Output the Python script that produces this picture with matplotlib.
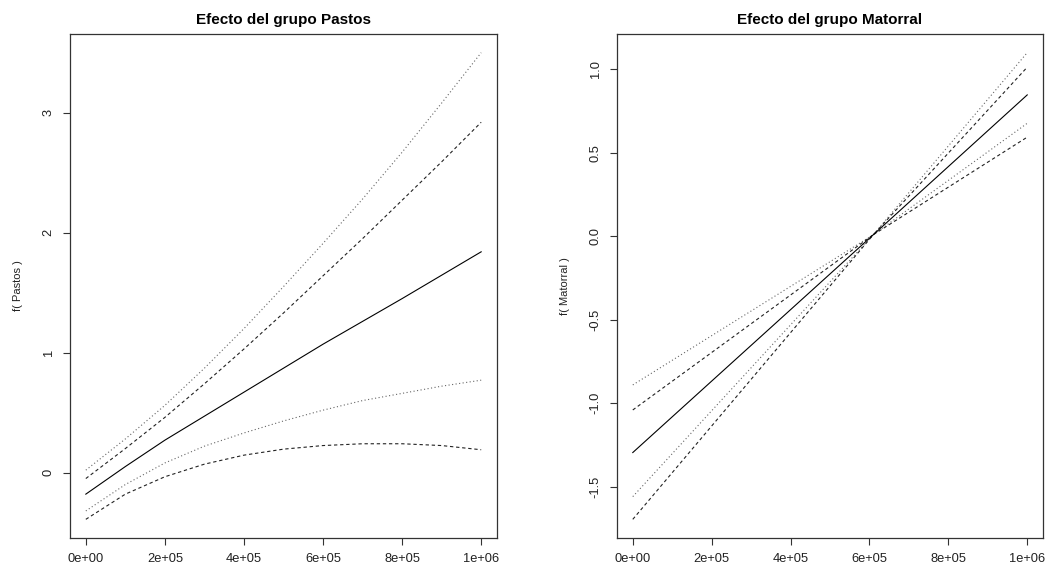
import numpy as np
import matplotlib
matplotlib.use("Agg")
import matplotlib.pyplot as plt

plt.rcParams['font.family'] = ['Liberation Sans', 'DejaVu Sans']

# ---- Data: left panel (Pastos) ----
x_pastos = [0, 1e5, 2e5, 3e5, 4e5, 5e5, 6e5, 7e5, 8e5, 9e5, 1e6]
fit_pastos = [-0.18, 0.05, 0.27, 0.47, 0.67, 0.87, 1.07, 1.26, 1.45, 1.645, 1.84]
up_dot_pastos = [0.02, 0.28, 0.56, 0.87, 1.20, 1.55, 1.91, 2.28, 2.67, 3.08, 3.50]
up_dash_pastos = [-0.05, 0.20, 0.46, 0.74, 1.03, 1.33, 1.64, 1.95, 2.27, 2.59, 2.92]
lo_dot_pastos = [-0.32, -0.10, 0.08, 0.22, 0.33, 0.43, 0.52, 0.60, 0.66, 0.72, 0.77]
lo_dash_pastos = [-0.39, -0.18, -0.035, 0.07, 0.145, 0.195, 0.225, 0.24, 0.24, 0.225, 0.19]

# ---- Data: right panel (Matorral) ----
x_matorral = [0, 6.1e5, 1e6]
fit_matorral = [-1.295, 0.01, 0.847]
up_dot_matorral = [-0.89, 0.01, 1.10]
lo_dot_matorral = [-1.559, 0.01, 0.677]
up_dash_matorral = [-1.04, 0.01, 1.013]
lo_dash_matorral = [-1.695, 0.01, 0.594]

x_ticks = [0, 2e5, 4e5, 6e5, 8e5, 1e6]
x_ticklabels = ["0e+00", "2e+05", "4e+05", "6e+05", "8e+05", "1e+06"]
y_ticks_pastos = [0, 1, 2, 3]
y_ticklabels_pastos = ["0", "1", "2", "3"]
y_ticks_matorral = [-1.5, -1.0, -0.5, 0.0, 0.5, 1.0]
y_ticklabels_matorral = ["-1.5", "-1.0", "-0.5", "0.0", "0.5", "1.0"]

W, H = 1046, 571
fig = plt.figure(figsize=(W / 100, H / 100), dpi=100)
fig.patch.set_facecolor('white')

ax1 = fig.add_axes([70 / W, (H - 538) / H, 427 / W, 504 / H])
ax2 = fig.add_axes([617 / W, (H - 538) / H, 426 / W, 504 / H])

lw = 0.8
dot_style = dict(color='#666666', lw=lw, dashes=(1.0, 2.2))
dash_style = dict(color='#222222', lw=lw, dashes=(3.0, 2.5))
solid_style = dict(color='black', lw=lw)

# Left
ax1.plot(x_pastos, up_dot_pastos, **dot_style)
ax1.plot(x_pastos, lo_dot_pastos, **dot_style)
ax1.plot(x_pastos, up_dash_pastos, **dash_style)
ax1.plot(x_pastos, lo_dash_pastos, **dash_style)
ax1.plot(x_pastos, fit_pastos, **solid_style)

# Right
ax2.plot(x_matorral, up_dot_matorral, **dot_style)
ax2.plot(x_matorral, lo_dot_matorral, **dot_style)
ax2.plot(x_matorral, up_dash_matorral, **dash_style)
ax2.plot(x_matorral, lo_dash_matorral, **dash_style)
ax2.plot(x_matorral, fit_matorral, **solid_style)


def r_limits(vals):
    lo, hi = min(vals), max(vals)
    ext = 0.04 * (hi - lo)
    return lo - ext, hi + ext


all_p = up_dot_pastos + up_dash_pastos + lo_dot_pastos + lo_dash_pastos + fit_pastos
all_m = up_dot_matorral + lo_dot_matorral + up_dash_matorral + lo_dash_matorral + fit_matorral
ax1.set_xlim(*r_limits(x_pastos))
ax2.set_xlim(*r_limits(x_matorral))
ax1.set_ylim(*r_limits(all_p))
ax2.set_ylim(*r_limits(all_m))

for ax, yt, ytl, title, ylab in [
    (ax1, y_ticks_pastos, y_ticklabels_pastos, "Efecto del grupo Pastos", "f( Pastos )"),
    (ax2, y_ticks_matorral, y_ticklabels_matorral, "Efecto del grupo Matorral", "f( Matorral )"),
]:
    ax.set_xticks(x_ticks)
    ax.set_xticklabels(x_ticklabels)
    ax.set_yticks(yt)
    ax.set_yticklabels(ytl, rotation=90, va='center')
    ax.tick_params(axis='both', direction='out', length=5, width=0.8,
                   colors='#333333', labelsize=9.3, labelcolor='#222222')
    ax.tick_params(axis='x', pad=5.5)
    ax.tick_params(axis='y', pad=6)
    for s in ax.spines.values():
        s.set_linewidth(0.9)
        s.set_color('#333333')
    ax.set_title(title, fontsize=11, fontweight='bold', pad=7)
    ax.set_ylabel(ylab, fontsize=8, color='#222222')
    ax.yaxis.set_label_coords(-0.110, 0.5)

fig.savefig("out.png", dpi=100, facecolor='white')
